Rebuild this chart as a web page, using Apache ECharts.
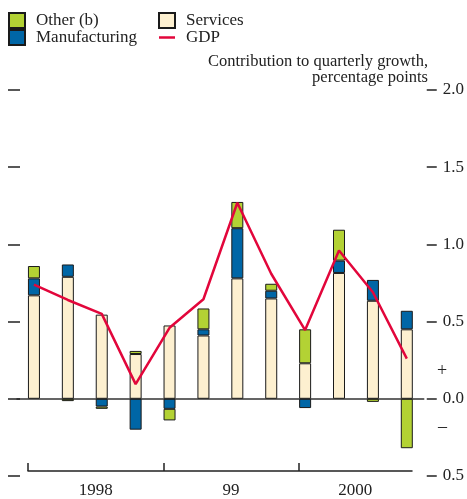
<!DOCTYPE html>
<html>
<head>
    <meta charset="UTF-8">
    <title>Contribution to quarterly growth</title>
    <script src="https://cdn.jsdelivr.net/npm/echarts@6/dist/echarts.min.js"></script>
    <style>
        body { margin: 0; background: #ffffff; }
        #chart { width: 467px; height: 499px; }
    </style>
</head>
<body>
<div id="chart"></div>
<script>
// quarters 1998 Q1 .. 2000 Q4
const quarters = ['1998 Q1', '1998 Q2', '1998 Q3', '1998 Q4',
                  '1999 Q1', '1999 Q2', '1999 Q3', '1999 Q4',
                  '2000 Q1', '2000 Q2', '2000 Q3', '2000 Q4'];
const services      = [0.67, 0.79, 0.545, 0.29, 0.475, 0.41, 0.78, 0.65, 0.23, 0.815, 0.635, 0.45];
const manufacturing = [0.11, 0.08, -0.05, -0.2, -0.065, 0.04, 0.325, 0.05, -0.06, 0.08, 0.135, 0.12];
const other         = [0.08, -0.015, -0.015, 0.02, -0.075, 0.135, 0.17, 0.045, 0.22, 0.2, -0.02, -0.32];
const gdp           = [0.74, 0.64, 0.55, 0.095, 0.46, 0.645, 1.27, 0.81, 0.445, 0.96, 0.69, 0.26];

// year axis (in quarters, counted from the first bar)
const yearLabels = ['1998', '99', '2000'];
const yearStarts = [0, 4, 8];
const yearEnd = 11.35;

const FONT = '"Liberation Serif", "DejaVu Serif", serif';
const C_OTHER = '#b3d234', C_MANU = '#0066a6', C_SERV = '#fdf0d0', C_GDP = '#e2063b';

const yearMids = yearStarts.map(function (s, i) {
    const e = i < yearStarts.length - 1 ? yearStarts[i + 1] : yearEnd;
    return (s + e) / 2;
});

const chart = echarts.init(document.getElementById('chart'));

const barStyle = function (c) {
    return { color: c, borderColor: '#1a1a1a', borderWidth: 1 };
};
const legendText = { fontFamily: FONT, fontSize: 17, color: '#222', lineHeight: 15, padding: [0, 0, 0, 6] };

const option = {
    animation: false,
    backgroundColor: '#ffffff',
    textStyle: { fontFamily: FONT },
    legend: [{
        data: [{ name: 'Other (b)', icon: 'rect' }, { name: 'Manufacturing', icon: 'rect' }],
        orient: 'vertical', left: 8, top: 12, padding: 0,
        itemWidth: 16, itemHeight: 15, itemGap: 0,
        textStyle: legendText
    }, {
        data: [{ name: 'Services', icon: 'rect' }, { name: 'GDP', icon: 'path://M0,0 L16,0 L16,2.5 L0,2.5 Z' }],
        orient: 'vertical', left: 158, top: 12, padding: 0,
        itemWidth: 16, itemHeight: 15, itemGap: 0,
        symbolKeepAspect: true,
        textStyle: legendText
    }],
    graphic: [{
        type: 'text', right: 39, top: 53,
        style: { text: 'Contribution to quarterly growth,', font: '16.5px ' + FONT, fill: '#222' }
    }, {
        type: 'text', right: 39, top: 69,
        style: { text: 'percentage points', font: '16.5px ' + FONT, fill: '#222' }
    }, {
        type: 'text', left: 437, top: 362,
        style: { text: '+', font: '18px ' + FONT, fill: '#222' }
    }, {
        type: 'text', left: 438, top: 418,
        style: { text: '\u2013', font: '18px ' + FONT, fill: '#222' }
    }],
    grid: [
        { left: 17, right: 43, top: 90, bottom: 23 },
        { left: 28, right: 55, top: 90, bottom: 23 }
    ],
    xAxis: [{
        type: 'category', gridIndex: 0, data: quarters,
        axisLine: { onZero: true, lineStyle: { color: '#333', width: 1.5 } },
        axisTick: { show: false }, axisLabel: { show: false }
    }, {
        type: 'value', gridIndex: 1, position: 'bottom',
        min: 0, max: yearEnd,
        splitLine: { show: false },
        axisLine: { lineStyle: { color: '#222', width: 1.5 } },
        axisTick: { inside: true, length: 8, customValues: yearStarts, lineStyle: { color: '#222', width: 1.5 } },
        axisLabel: {
            customValues: yearMids, margin: 11,
            fontFamily: FONT, fontSize: 17, color: '#222',
            formatter: function (v) {
                let best = 0;
                yearMids.forEach(function (m, i) {
                    if (Math.abs(m - v) < Math.abs(yearMids[best] - v)) best = i;
                });
                return yearLabels[best];
            }
        }
    }],
    yAxis: [{
        type: 'value', gridIndex: 0, position: 'right', offset: 3,
        min: -0.5, max: 2.0, interval: 0.5,
        splitLine: { show: false },
        axisLine: { show: false },
        axisTick: { show: true, length: 10, lineStyle: { color: '#222', width: 1.5 } },
        axisLabel: {
            margin: 16, fontFamily: FONT, fontSize: 17, color: '#222',
            formatter: function (v) { return Math.abs(v).toFixed(1); }
        }
    }, {
        type: 'value', gridIndex: 0, position: 'left', offset: -3,
        min: -0.5, max: 2.0, interval: 0.5,
        splitLine: { show: false },
        axisLine: { show: false },
        axisTick: { show: true, length: 12, lineStyle: { color: '#222', width: 1.5 } },
        axisLabel: { show: false }
    }, {
        type: 'value', gridIndex: 1, min: 0, max: 1, show: false
    }],
    series: [{
        name: 'Services', type: 'bar', stack: 'c', barWidth: 12,
        xAxisIndex: 0, yAxisIndex: 0,
        itemStyle: barStyle(C_SERV), data: services
    }, {
        name: 'Manufacturing', type: 'bar', stack: 'c', barWidth: 12,
        xAxisIndex: 0, yAxisIndex: 0,
        itemStyle: barStyle(C_MANU), data: manufacturing
    }, {
        name: 'Other (b)', type: 'bar', stack: 'c', barWidth: 12,
        xAxisIndex: 0, yAxisIndex: 0,
        itemStyle: barStyle(C_OTHER), data: other
    }, {
        name: 'GDP', type: 'line', xAxisIndex: 0, yAxisIndex: 0,
        symbol: 'none', z: 5,
        lineStyle: { color: C_GDP, width: 2.5 },
        itemStyle: { color: C_GDP },
        data: gdp
    }]
};

chart.setOption(option);
</script>
</body>
</html>
